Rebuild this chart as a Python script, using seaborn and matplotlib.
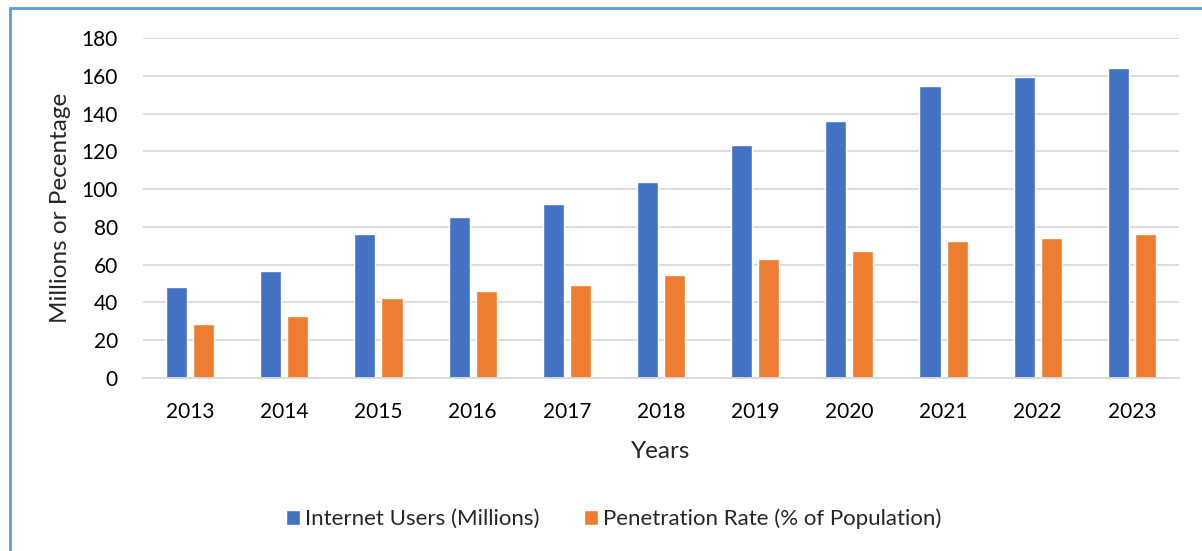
import matplotlib
matplotlib.use("Agg")
import matplotlib.pyplot as plt
import pandas as pd
import seaborn as sns
from matplotlib.patches import Rectangle

# values
years = ["2013", "2014", "2015", "2016", "2017", "2018", "2019", "2020", "2021", "2022", "2023"]
internet_users = [48.3, 56.6, 76.0, 85.0, 92.2, 103.7, 123.6, 136.3, 154.5, 159.3, 164.1]
penetration_rate = [28.4, 32.8, 42.5, 45.9, 49.4, 54.4, 62.9, 67.1, 72.4, 74.3, 76.1]
series_names = ["Internet Users (Millions)", "Penetration Rate (% of Population)"]
colors = ["#4472C4", "#ED7D31"]

df = pd.DataFrame({
    "Year": years * 2,
    "Value": internet_users + penetration_rate,
    "Series": [series_names[0]] * len(years) + [series_names[1]] * len(years),
})

sns.set_style("white")
plt.rcParams["font.family"] = ["Lato", "DejaVu Sans"]

fig = plt.figure(figsize=(12.02, 5.51), dpi=100)
ax = fig.add_axes([143 / 1202, 1 - 378 / 551, 1036 / 1202, 340 / 551])

sns.barplot(data=df, x="Year", y="Value", hue="Series", palette=colors,
            width=0.574, gap=0.22, ax=ax, legend=False, saturation=1)

ax.set_ylim(0, 180)
ax.set_xlim(-0.5, len(years) - 0.5)
ax.set_yticks(range(0, 181, 20))
ax.yaxis.grid(True, color="#D9D9D9", linewidth=1.3)
ax.set_axisbelow(True)
for s in ["top", "right", "left"]:
    ax.spines[s].set_visible(False)
ax.spines["bottom"].set_color("#D9D9D9")
ax.spines["bottom"].set_linewidth(1.3)
ax.tick_params(axis="both", length=0, labelsize=15, colors="#000000")
ax.tick_params(axis="x", pad=17)
ax.tick_params(axis="y", pad=18)

ax.set_xlabel("Years", fontsize=17.5, labelpad=14)
ax.set_ylabel("Millions or Pecentage", fontsize=17.5, labelpad=8)

handles = [Rectangle((0, 0), 1, 1, facecolor=c) for c in colors]
fig.legend(handles, series_names, loc="center", bbox_to_anchor=(614 / 1202, 1 - 519 / 551),
           ncol=2, frameon=False, fontsize=16, handlelength=0.6, handleheight=0.6,
           handletextpad=0.25, columnspacing=2.0)

# light blue chart border (right and bottom edges fall outside the image)
fig.patches.append(Rectangle((10 / 1202, -0.1), 1.2, 1.1 - 8 / 551, transform=fig.transFigure,
                             fill=False, edgecolor="#5B9BD5", linewidth=2))

fig.savefig("out.png", dpi=100)
